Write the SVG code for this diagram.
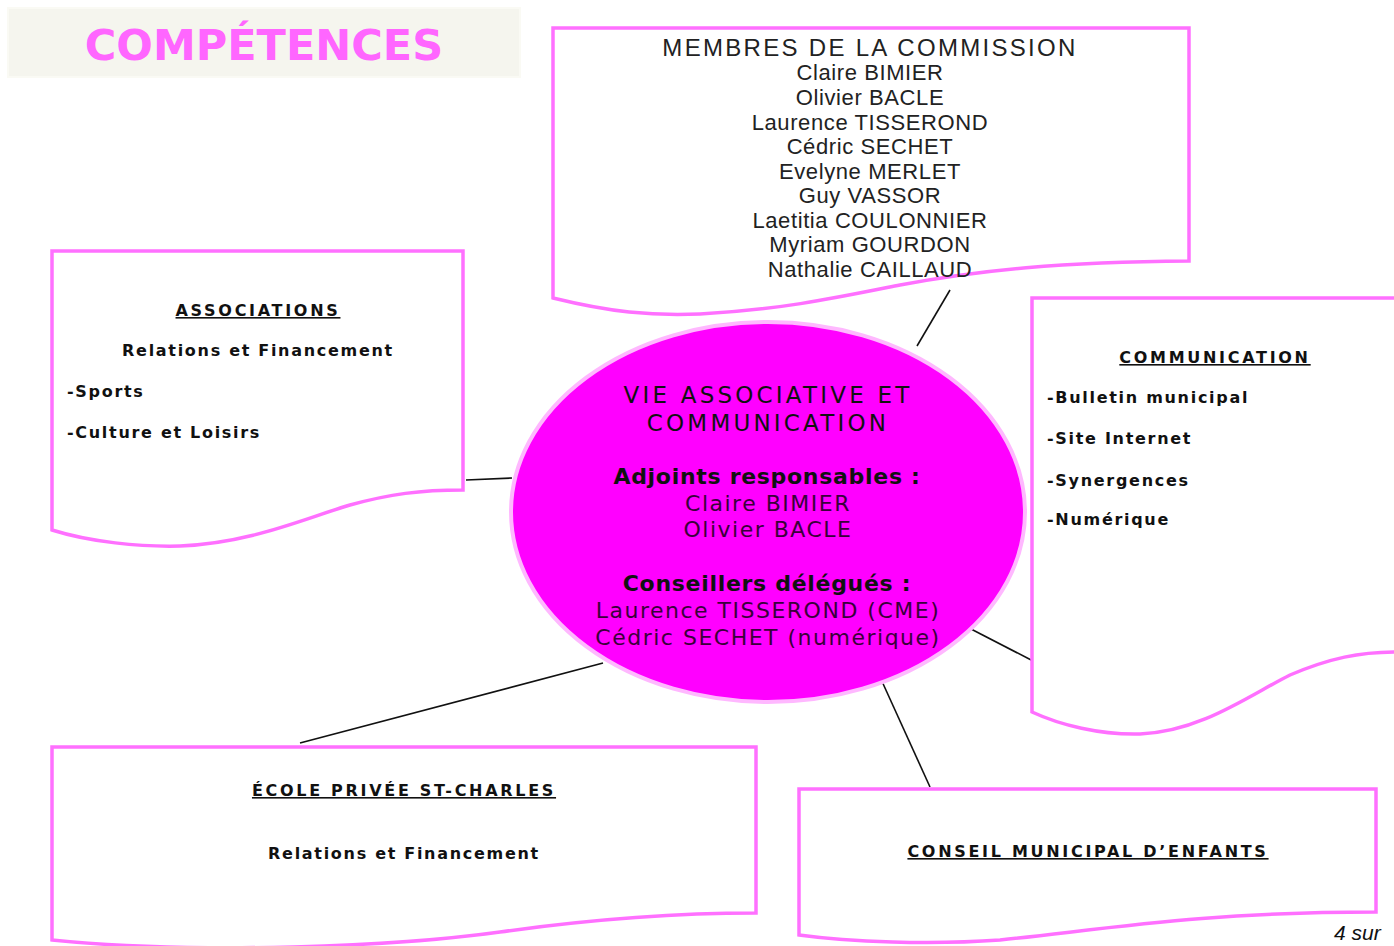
<svg xmlns="http://www.w3.org/2000/svg" width="1394" height="946" viewBox="0 0 1394 946">
<style>
.box{fill:#ffffff;stroke:#ff70ff;stroke-width:3.5;stroke-linejoin:miter}
.conn{stroke:#111;stroke-width:1.6;fill:none}
.mem{font-family:"Liberation Sans",Arial,sans-serif;font-size:22px;letter-spacing:0.6px;fill:#222;text-anchor:middle}
.vb{font-family:"DejaVu Sans",Verdana,sans-serif;font-weight:bold;font-size:16px;letter-spacing:1.7px;fill:#111}
.hd{letter-spacing:2.7px;text-decoration:underline}
.mid{text-anchor:middle}
.el{font-family:"DejaVu Sans",Verdana,sans-serif;font-size:22px;letter-spacing:1.5px;text-anchor:middle;fill:#3a003a}
.et{font-size:23px;letter-spacing:3.2px;fill:#111}
.eb{font-weight:bold;letter-spacing:0.7px;fill:#111}
</style>
<rect width="1394" height="946" fill="#ffffff"/>
<g id="title">
<rect x="8" y="8" width="512" height="69" fill="#f5f5ee" stroke="#fafaf4" stroke-width="2"/>
<text x="264" y="60" font-family="DejaVu Sans,Verdana,sans-serif" font-weight="bold" font-size="43" fill="#ff66ff" text-anchor="middle">COMPÉTENCES</text>
</g>
<g id="connectors">
<line class="conn" x1="917" y1="346" x2="950" y2="290"/>
<line class="conn" x1="466" y1="480" x2="512" y2="478"/>
<line class="conn" x1="971" y1="629" x2="1035" y2="662"/>
<line class="conn" x1="603" y1="663" x2="300" y2="743"/>
<line class="conn" x1="880" y1="677" x2="930" y2="787"/>
</g>
<g id="membres">
<path class="box" d="M553,298 V28 H1189 V261 C1060,262 980,270 900,285 C840,297 780,310 700,314 C650,316 610,312 553,298 Z"/>
<text class="mem" x="870" y="56" style="font-size:24px;letter-spacing:2.3px" fill="#111">MEMBRES DE LA COMMISSION</text>
<text class="mem" x="870" y="80">Claire BIMIER</text>
<text class="mem" x="870" y="105">Olivier BACLE</text>
<text class="mem" x="870" y="130">Laurence TISSEROND</text>
<text class="mem" x="870" y="154">Cédric SECHET</text>
<text class="mem" x="870" y="179">Evelyne MERLET</text>
<text class="mem" x="870" y="203">Guy VASSOR</text>
<text class="mem" x="870" y="228">Laetitia COULONNIER</text>
<text class="mem" x="870" y="252">Myriam GOURDON</text>
<text class="mem" x="870" y="277">Nathalie CAILLAUD</text>
</g>
<g id="associations">
<path class="box" d="M52,530 V251 H463 V490 C420,490 390,494 350,505 C300,520 250,543 180,546 C140,547 90,542 52,530 Z"/>
<text class="vb mid hd" x="258" y="316">ASSOCIATIONS</text>
<text class="vb mid" x="258" y="356">Relations et Financement</text>
<text class="vb" x="67" y="397">-Sports</text>
<text class="vb" x="67" y="438">-Culture et Loisirs</text>
</g>
<g id="communication">
<path class="box" d="M1032,712 V298 H1396 V652 C1360,652 1330,658 1290,675 C1250,695 1200,732 1140,734 C1100,735 1060,725 1032,712 Z"/>
<text class="vb mid hd" x="1215" y="363">COMMUNICATION</text>
<text class="vb" x="1047" y="403">-Bulletin municipal</text>
<text class="vb" x="1047" y="444">-Site Internet</text>
<text class="vb" x="1047" y="486">-Synergences</text>
<text class="vb" x="1047" y="525">-Numérique</text>
</g>
<g id="ecole">
<path class="box" d="M52,940 V747 H756 V913 C680,913 600,918 500,932 C400,946 200,955 52,940 Z"/>
<text class="vb mid hd" x="404" y="796">ÉCOLE PRIVÉE ST-CHARLES</text>
<text class="vb mid" x="404" y="859">Relations et Financement</text>
</g>
<g id="cme">
<path class="box" d="M799,935 V789 H1376 V912 C1200,912 1100,930 1000,940 C930,945 850,942 799,935 Z"/>
<text class="vb mid hd" x="1088" y="857">CONSEIL MUNICIPAL D’ENFANTS</text>
</g>
<g id="centre">
<ellipse cx="768" cy="512" rx="257" ry="190" fill="#ff00ff" stroke="#ffb8ff" stroke-width="4"/>
<text class="el et" x="768" y="403">VIE ASSOCIATIVE ET</text>
<text class="el et" x="768" y="431">COMMUNICATION</text>
<text class="el eb" x="767" y="484">Adjoints responsables :</text>
<text class="el" x="768" y="511">Claire BIMIER</text>
<text class="el" x="768" y="537">Olivier BACLE</text>
<text class="el eb" x="767" y="591">Conseillers délégués :</text>
<text class="el" x="768" y="618">Laurence TISSEROND (CME)</text>
<text class="el" x="768" y="645">Cédric SECHET (numérique)</text>
</g>
<text x="1334" y="940" font-family="Liberation Sans,Arial,sans-serif" font-style="italic" font-size="21" fill="#111">4 sur</text>
</svg>
